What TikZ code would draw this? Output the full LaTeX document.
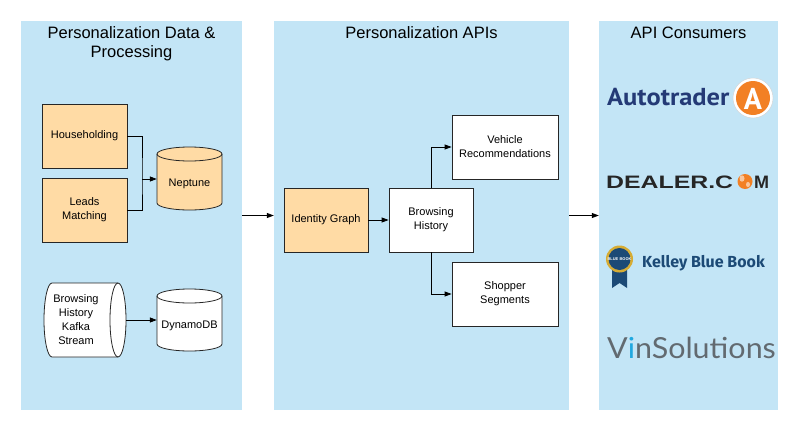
\documentclass[tikz,border=0pt]{standalone}
\usepackage{fontspec}
\usepackage{graphicx}
\setmainfont{Liberation Sans}
\newfontfamily\autofont{PT Sans}
\newfontfamily\kbbfont{Fira Sans}
\newfontfamily\vinfont{Lato}
\usetikzlibrary{arrows.meta}

\definecolor{panelblue}{RGB}{195,229,246}
\definecolor{procorange}{RGB}{255,219,165}
\definecolor{autonavy}{RGB}{36,58,118}
\definecolor{logoorange}{RGB}{242,128,36}
\definecolor{kbbblue}{RGB}{28,74,118}
\definecolor{kbbgold}{RGB}{214,172,52}
\definecolor{vingray}{RGB}{98,106,112}
\definecolor{vinblue}{RGB}{32,168,224}

\begin{document}
\begin{tikzpicture}[x=1pt, y=-1pt,
    panel/.style={fill=panelblue, minimum height=389pt, inner sep=0pt},
    title/.style={align=center, font=\fontsize{16.5}{18.5}\selectfont, inner sep=0pt},
    box/.style={draw=black!85, line width=0.8pt, fill=white, align=center, minimum height=64pt, font=\fontsize{11}{14}\selectfont},
    srcbox/.style={box, fill=procorange, minimum width=85pt},
    cyl/.style={draw=black!85, line width=0.8pt},
    store/.style={align=center, inner sep=0pt, minimum width=65pt, font=\fontsize{11}{14}\selectfont},
    conn/.style={-{Triangle[length=7pt,width=5pt]}, line width=0.8pt},
    logo/.style={anchor=base west, inner sep=0pt}]
  \useasboundingbox (0,0) rectangle (800,431);

  % three columns
  \node[panel, minimum width=221pt] (data) at (131.5,215.5) {};
  \node[panel, minimum width=295pt] (apis) at (421.5,215.5) {};
  \node[panel, minimum width=179pt] (cons) at (688.5,215.5) {};
  \node[title, anchor=north] (datatitle) at (131.5,26.5) {Personalization Data \&\\Processing};
  \node[title, anchor=north] (apititle) at (421.5,26.5) {Personalization APIs};
  \node[title, anchor=north] (constitle) at (688.5,26.5) {API Consumers};

  % data and processing
  \node[srcbox] (househ) at (84.5,136) {Householding};
  \node[srcbox] (leads) at (84.5,210) {Leads\\Matching};
  \filldraw[cyl, fill=procorange] (157,154) -- (157,203) arc (180:0:32.5 and 7) -- (222,154) arc (0:-180:32.5 and 7) -- cycle;
  \draw[cyl] (157,154) arc (180:0:32.5 and 7);
  \node[store, minimum height=63pt, text height=16pt, text depth=2pt] (neptune) at (189.5,179) {Neptune};
  \coordinate (merge) at (142,179);
  \draw[line width=0.8pt] (househ.east) -| (merge) |- (leads.east);
  \draw[conn] (merge) -- (neptune);

  \filldraw[cyl, fill=white] (52,283) arc (270:90:8 and 37) -- (118,357) arc (90:-90:8 and 37) -- cycle;
  \draw[cyl] (118,283) arc (270:90:8 and 37);
  \node[store, minimum width=82pt, minimum height=74pt,
    label={[name=kafkatext, align=center, font=\fontsize{11}{14}\selectfont, xshift=-9pt]center:{Browsing\\History\\Kafka\\Stream}}] (kafka) at (85,320) {};
  \filldraw[cyl, fill=white] (157,296) -- (157,344) arc (180:0:32.5 and 7) -- (222,296) arc (0:-180:32.5 and 7) -- cycle;
  \draw[cyl] (157,296) arc (180:0:32.5 and 7);
  \node[store, minimum height=62pt, text height=18pt, text depth=2pt] (dynamo) at (189.5,320) {DynamoDB};
  \draw[conn] (kafka) -- (dynamo);

  % apis
  \node[box, fill=procorange, minimum width=84pt] (idgraph) at (326,220) {Identity Graph};
  \node[box, minimum width=84pt] (browse) at (431,220) {Browsing\\History};
  \node[box, minimum width=106pt] (vehrec) at (505,147) {Vehicle\\Recommendations};
  \node[box, minimum width=106pt] (shopper) at (505,294) {Shopper\\Segments};
  \draw[conn] (idgraph) -- (browse);
  \draw[conn] (browse.north) |- (vehrec.west);
  \draw[conn] (browse.south) |- (shopper.west);

  \draw[conn] (data) -- (apis);
  \draw[conn] (apis) -- (cons);

  % consumers
  \node[logo, text=autonavy, font=\autofont\bfseries\fontsize{24.5}{24.5}\selectfont] (autotrader) at (607,105) {\scalebox{1.08}[1]{Autotrader}};
  \draw[gray!35, fill=white] (753,98) circle (20);
  \fill[logoorange] (753,98) circle (17);
  \node[text=white, inner sep=0pt, font=\autofont\bfseries\fontsize{30}{30}\selectfont] (autotraderA) at (753,99) {A};

  \node[logo, text=black!85, font=\bfseries\fontsize{18}{18}\selectfont] (dealer) at (606,188) {\scalebox{1.38}[1]{DEALER.C}};
  \fill[logoorange] (745,181.5) circle (7.5);
  \fill[white!55!logoorange] (742,178.5) ellipse (2.5 and 3.2);
  \fill[white!55!logoorange] (748,184.5) ellipse (2 and 2.6);
  \node[logo, text=black!85, font=\bfseries\fontsize{18}{18}\selectfont] (dealerM) at (754,188) {M};

  \fill[kbbblue] (612,268) -- (612,288) -- (619.5,283) -- (627,288) -- (627,268) -- cycle;
  \fill[kbbgold] (619.5,259) circle (13.5);
  \fill[kbbblue] (619.5,259) circle (11);
  \node[text=white, inner sep=0pt, font=\bfseries\fontsize{4}{4}\selectfont] (kbbbadge) at (619.5,259) {BLUE BOOK};
  \node[logo, text=kbbblue, font=\kbbfont\bfseries\fontsize{16}{16}\selectfont] (kbb) at (642,267) {Kelley Blue Book};

  \node[logo, text=vingray, font=\vinfont\fontsize{29}{29}\selectfont] (vin) at (607,358) {\scalebox{1.05}[1]{V\textcolor{vinblue}{i}nSolutions}};
\end{tikzpicture}
\end{document}
